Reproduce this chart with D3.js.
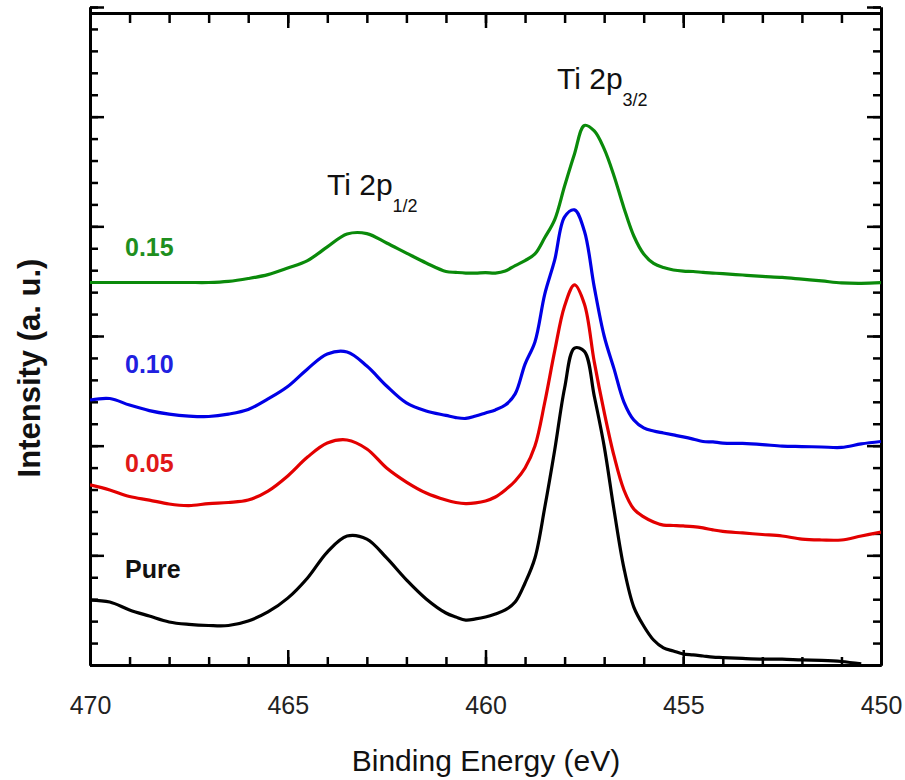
<!DOCTYPE html>
<html>
<head>
<meta charset="utf-8">
<script src="https://cdnjs.cloudflare.com/ajax/libs/d3/7.8.5/d3.min.js"></script>
<style>
    body { margin: 0; background: #fff; }
    svg text { font-family: "Liberation Sans", Arial, sans-serif; }
    .frame path.domain { stroke: #000; stroke-width: 3; }
    .frame line { stroke: #000; stroke-width: 2.5; }
</style>
</head>
<body>
<div id="chart"></div>
<script>
// Binding energy grid (eV), finer around the 2p3/2 peak
const energies = [470, 469.5, 469, 468.5, 468, 467.5, 467, 466.5, 466, 465.5, 465, 464.5, 464, 463.5, 463, 462.5, 462, 461.5,
    461, 460.75, 460.5, 460.25, 460, 459.75, 459.5, 459.25, 459, 458.75, 458.5, 458.25, 458, 457.75, 457.5, 457.25, 457,
    456.75, 456.5, 456.25, 456, 455.75, 455.5, 455.25, 455, 454.75, 454.5, 454.25, 454,
    453.5, 453, 452.5, 452, 451.5, 451, 450.5, 450];

// Intensities (a. u.), curves stacked with offsets as in the figure
const pure = [2.96, 2.87, 2.51, 2.23, 1.96, 1.85, 1.80, 1.80, 2.01, 2.42, 3.05, 3.97, 5.15, 5.88, 5.74, 4.88, 3.88, 3.01,
    2.37, 2.19, 2.05, 2.10, 2.19, 2.33, 2.51, 2.87, 3.74, 4.88, 7.20, 9.80, 12.63, 14.45, 14.30, 12.26, 9.98,
    7.07, 4.42, 2.64, 1.78, 1.14, 0.78, 0.64, 0.50, 0.46, 0.41, 0.36, 0.34,
    0.30, 0.27, 0.27, 0.23, 0.21, 0.16, 0.05, null];
const dop005 = [8.21, 7.98, 7.68, 7.52, 7.34, 7.27, 7.36, 7.41, 7.52, 7.93, 8.62, 9.48, 10.12, 10.26, 9.85, 8.98, 8.34, 7.84,
    7.52, 7.41, 7.36, 7.39, 7.48, 7.66, 7.98, 8.39, 8.98, 9.98, 11.99, 14.32, 16.37, 17.33, 16.46, 13.82, 11.54,
    9.53, 7.98, 7.11, 6.75, 6.52, 6.38, 6.36, 6.34, 6.31, 6.25, 6.16, 6.09,
    6.02, 5.95, 5.88, 5.74, 5.70, 5.70, 5.88, 6.06];
const dop010 = [12.08, 12.15, 11.85, 11.60, 11.44, 11.35, 11.33, 11.44, 11.65, 12.13, 12.70, 13.50, 14.18, 14.27, 13.63, 12.72, 11.95, 11.58,
    11.38, 11.28, 11.24, 11.35, 11.49, 11.63, 11.85, 12.36, 13.72, 14.73, 16.92, 18.47, 20.43, 20.75, 19.79, 17.23, 15.00,
    13.50, 11.99, 11.17, 10.81, 10.67, 10.58, 10.49, 10.40, 10.30, 10.19, 10.17, 10.12,
    10.10, 10.05, 9.98, 9.96, 9.94, 9.92, 10.08, 10.19];
const dop015 = [17.44, 17.44, 17.44, 17.44, 17.44, 17.44, 17.44, 17.49, 17.62, 17.80, 18.10, 18.44, 19.06, 19.65, 19.67, 19.24, 18.78, 18.33,
    17.94, 17.90, 17.87, 17.87, 17.89, 17.87, 17.96, 18.21, 18.44, 18.74, 19.49, 20.31, 21.84, 23.30, 24.60, 24.35, 23.53,
    22.30, 20.84, 19.56, 18.74, 18.31, 18.12, 18.01, 17.96, 17.94, 17.90, 17.87, 17.84,
    17.78, 17.72, 17.67, 17.59, 17.51, 17.42, 17.40, 17.43];

const seriesNames = ["Pure", "0.05", "0.10", "0.15"];
const seriesValues = [pure, dop005, dop010, dop015];
const seriesColors = ["#000000", "#e30000", "#0000e6", "#0a8a0a"];
const labelColors = ["#111111", "#e01818", "#2020e0", "#1f8f1f"];

const xTickLabels = [470, 465, 460, 455, 450];

let svg = d3.select("#chart").append("svg")
    .attr("width", 905)
    .attr("height", 780);

let x = d3.scaleLinear().domain([470, 450]).range([90, 881]);
let y = d3.scaleLinear().domain([0, 30]).range([665, 7]);

let xMinor = d3.range(450, 471, 1);
let xMajor = d3.range(450, 471, 5);
let yMinor = d3.range(0, 31, 1);
let yMajor = d3.range(0, 31, 5);

function frameAxis(axis, values, size, translate) {
    svg.append("g")
        .attr("class", "frame")
        .attr("transform", translate)
        .call(axis.tickValues(values).tickSize(size).tickSizeOuter(0).tickFormat(""));
}

// ticks all point inward
frameAxis(d3.axisTop(x), xMinor, 8, "translate(0,665)");
frameAxis(d3.axisTop(x), xMajor, 15, "translate(0,665)");
frameAxis(d3.axisBottom(x), xMinor, 10, "translate(0,13)");
frameAxis(d3.axisBottom(x), xMajor, 15, "translate(0,13)");
frameAxis(d3.axisRight(y), yMinor, 8, "translate(90,0)");
frameAxis(d3.axisRight(y), yMajor, 14, "translate(90,0)");
frameAxis(d3.axisLeft(y), yMinor, 8, "translate(881,0)");
frameAxis(d3.axisLeft(y), yMajor, 14, "translate(881,0)");

svg.append("g")
    .attr("transform", "translate(0,665)")
    .call(d3.axisBottom(x).tickValues(xTickLabels).tickSize(0).tickPadding(31))
    .call(g => g.select(".domain").remove())
    .selectAll("text")
    .style("font-family", "'Liberation Sans', Arial, sans-serif")
    .style("font-size", "25px")
    .style("fill", "#222");

svg.append("clipPath").attr("id", "plot-clip")
    .append("rect")
    .attr("x", 90).attr("y", 7)
    .attr("width", 791).attr("height", 658);

let line = d3.line()
    .defined(d => d[1] !== null)
    .x(d => x(d[0]))
    .y(d => y(d[1]))
    .curve(d3.curveCatmullRom.alpha(0.5));

seriesValues.forEach((values, i) => {
    svg.append("path")
        .datum(energies.map((e, k) => [e, values[k]]))
        .attr("clip-path", "url(#plot-clip)")
        .attr("d", line)
        .style("fill", "none")
        .style("stroke", seriesColors[i])
        .style("stroke-width", 3.2)
        .style("stroke-linejoin", "round");
});

// series labels
let labelY = [578, 472, 373, 256];
seriesNames.forEach((name, i) => {
    svg.append("text")
        .attr("x", 125)
        .attr("y", labelY[i])
        .style("font-size", "25px")
        .style("font-weight", "bold")
        .style("fill", labelColors[i])
        .text(name);
});

// peak labels
function peakLabel(px, py, sub) {
    let t = svg.append("text")
        .attr("x", px)
        .attr("y", py)
        .style("font-size", "30px")
        .style("fill", "#111");
    t.append("tspan").text("Ti 2p");
    t.append("tspan")
        .attr("dy", 17)
        .style("font-size", "18px")
        .text(sub);
}
peakLabel(327, 195, "1/2");
peakLabel(557, 89, "3/2");

svg.append("text")
    .attr("x", 486)
    .attr("y", 771)
    .attr("text-anchor", "middle")
    .style("font-size", "30px")
    .style("fill", "#111")
    .text("Binding Energy (eV)");

svg.append("text")
    .attr("transform", "translate(40,368) rotate(-90)")
    .attr("text-anchor", "middle")
    .style("font-size", "31px")
    .style("font-weight", "bold")
    .style("fill", "#111")
    .text("Intensity (a. u.)");
</script>
</body>
</html>
